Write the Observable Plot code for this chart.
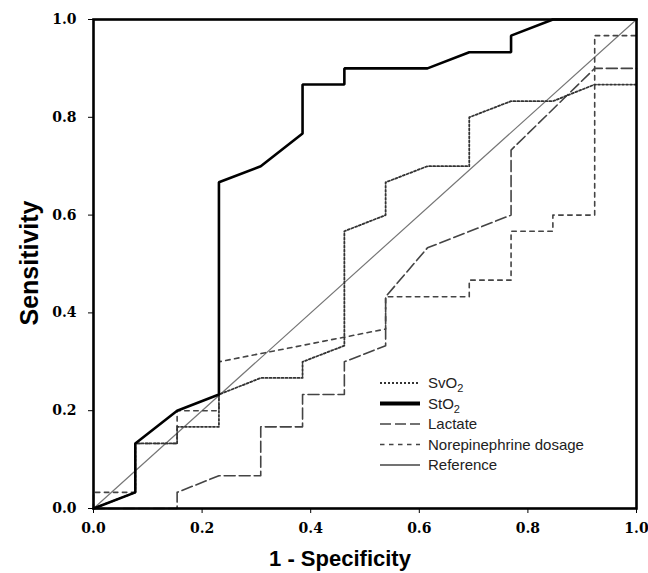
<!DOCTYPE html>
<html>
<head>
<meta charset="utf-8">
<script src="https://cdn.jsdelivr.net/npm/d3@7"></script>
<script src="https://cdn.jsdelivr.net/npm/@observablehq/plot@0.6"></script>
<style>
  html, body { margin: 0; padding: 0; background: #fff; }
  #chart svg { display: block; }
</style>
</head>
<body>
<div id="chart"></div>
<script>
// ---- Data ----
const tickValues = [0, 0.2, 0.4, 0.6, 0.8, 1.0];

const refX = [0, 1];
const refY = [0, 1];

const stO2X = [0, 0.077, 0.077, 0.154, 0.231, 0.231, 0.308, 0.385, 0.385, 0.462, 0.462, 0.615, 0.692, 0.769, 0.769, 0.846, 1];
const stO2Y = [0, 0.033, 0.133, 0.2, 0.233, 0.667, 0.7, 0.767, 0.867, 0.867, 0.9, 0.9, 0.933, 0.933, 0.967, 1, 1];

const svO2X = [0, 0.077, 0.077, 0.154, 0.154, 0.231, 0.231, 0.308, 0.385, 0.385, 0.462, 0.462, 0.538, 0.538, 0.615, 0.692, 0.692, 0.769, 0.846, 0.923, 1];
const svO2Y = [0, 0.033, 0.133, 0.133, 0.167, 0.167, 0.233, 0.267, 0.267, 0.3, 0.333, 0.567, 0.6, 0.667, 0.7, 0.7, 0.8, 0.833, 0.833, 0.867, 0.867];

const lactateX = [0, 0.154, 0.154, 0.231, 0.308, 0.308, 0.385, 0.385, 0.462, 0.462, 0.538, 0.538, 0.615, 0.769, 0.769, 0.923, 1];
const lactateY = [0, 0, 0.033, 0.067, 0.067, 0.167, 0.167, 0.233, 0.233, 0.3, 0.333, 0.433, 0.533, 0.6, 0.733, 0.9, 0.9];

const norepiX = [0, 0, 0.077, 0.077, 0.154, 0.154, 0.231, 0.231, 0.538, 0.538, 0.692, 0.692, 0.769, 0.769, 0.846, 0.846, 0.923, 0.923, 1];
const norepiY = [0, 0.033, 0.033, 0.133, 0.133, 0.2, 0.2, 0.3, 0.367, 0.433, 0.433, 0.467, 0.467, 0.567, 0.567, 0.6, 0.6, 0.967, 0.967];

const legendLabels = ["SvO|2", "StO|2", "Lactate", "Norepinephrine dosage", "Reference"];

// ---- Build tables ----
const zip = (xs, ys) => xs.map((x, i) => ({x, y: ys[i]}));
const ref = zip(refX, refY);
const stO2 = zip(stO2X, stO2Y);
const svO2 = zip(svO2X, svO2Y);
const lactate = zip(lactateX, lactateY);
const norepi = zip(norepiX, norepiY);

const styles = {
  svO2:    {stroke: "#333", strokeWidth: 1.8, strokeDasharray: "2,2"},
  stO2:    {stroke: "#000", strokeWidth: 2.6},
  lactate: {stroke: "#444", strokeWidth: 1.6, strokeDasharray: "11,4"},
  norepi:  {stroke: "#444", strokeWidth: 1.6, strokeDasharray: "4.5,4.5"},
  ref:     {stroke: "#777", strokeWidth: 1.2}
};

const chart = Plot.plot({
  width: 648,
  height: 573,
  marginLeft: 93,
  marginRight: 12,
  marginTop: 19,
  marginBottom: 65,
  x: {domain: [0, 1]},
  y: {domain: [0, 1]},
  style: {background: "#fff"},
  marks: [
    Plot.line(ref, {x: "x", y: "y", ...styles.ref}),
    Plot.line(norepi, {x: "x", y: "y", ...styles.norepi}),
    Plot.line(lactate, {x: "x", y: "y", ...styles.lactate}),
    Plot.line(svO2, {x: "x", y: "y", ...styles.svO2}),
    Plot.line(stO2, {x: "x", y: "y", ...styles.stO2, strokeLinejoin: "miter"}),
    Plot.frame({stroke: "#000", strokeWidth: 2.6}),
    Plot.axisX({ticks: tickValues, tickFormat: d => d.toFixed(1), tickSize: 5, tickPadding: 10,
      label: null, fontSize: 14, fontWeight: "bold", stroke: "#000"}),
    Plot.axisY({ticks: tickValues, tickFormat: d => d.toFixed(1), tickSize: 5, tickPadding: 12,
      label: null, fontSize: 14, fontWeight: "bold", stroke: "#000"})
  ]
});

document.getElementById("chart").appendChild(chart);

// ---- Tick label font (serif bold), applied to the axis texts Plot made ----
const svg = d3.select(chart);
svg.selectAll("text")
  .style("font-family", "'DejaVu Serif', 'Liberation Serif', serif")
  .style("font-weight", "bold")
  .style("font-size", "14px")
  .attr("fill", "#000").attr("stroke", "none");

// ---- Axis titles & legend ----
svg.append("text")
  .attr("x", 340).attr("y", 566)
  .attr("text-anchor", "middle")
  .style("font-family", "'Liberation Sans', Arial, sans-serif")
  .attr("font-weight", "bold").attr("font-size", 22)
  .attr("fill", "#000")
  .text("1 - Specificity");

svg.append("text")
  .attr("transform", "translate(38,263) rotate(-90)")
  .attr("text-anchor", "middle")
  .style("font-family", "'Liberation Sans', Arial, sans-serif")
  .attr("font-weight", "bold").attr("font-size", 25)
  .attr("fill", "#000")
  .text("Sensitivity");

const legendStyles = [
  styles.svO2,
  {stroke: "#000", strokeWidth: 4},
  styles.lactate,
  styles.norepi,
  {stroke: "#444", strokeWidth: 1.4}
];
const lg = svg.append("g").attr("aria-label", "legend").attr("text-anchor", "start");
legendLabels.forEach((lab, i) => {
  const y = 383 + i * 20.5;
  const s = legendStyles[i];
  lg.append("line")
    .attr("x1", 380).attr("x2", 420).attr("y1", y).attr("y2", y)
    .attr("stroke", s.stroke).attr("stroke-width", s.strokeWidth)
    .attr("stroke-dasharray", s.strokeDasharray || null);
  const t = lg.append("text")
    .attr("x", 428).attr("y", y + 5)
    .attr("text-anchor", "start")
    .style("font-family", "'Liberation Sans', Arial, sans-serif")
    .attr("font-size", 15).attr("fill", "#222");
  const parts = lab.split("|");
  t.append("tspan").text(parts[0]);
  if (parts[1]) {
    t.append("tspan").attr("dy", 4).attr("font-size", 11).text(parts[1]);
  }
});
</script>
</body>
</html>
